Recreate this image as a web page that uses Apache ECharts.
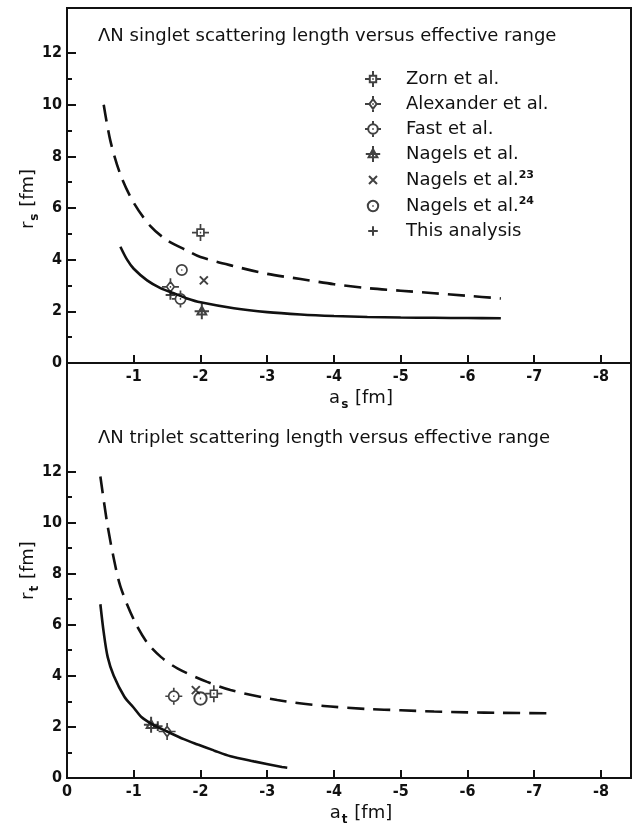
<!DOCTYPE html>
<html>
<head>
<meta charset="utf-8">
<script src="https://cdn.jsdelivr.net/npm/echarts@6/dist/echarts.min.js"></script>
<style>
  html, body { margin: 0; background: #fff; }
  #chart { width: 638px; height: 831px; }
</style>
</head>
<body>
<div id="chart"></div>
<script>
// ---- curves (a [fm], r [fm]) ----
const singletDashed = [[-0.55,10.0],[-0.65,8.6],[-0.8,7.3],[-1.0,6.2],[-1.25,5.3],[-1.5,4.75],[-1.8,4.35],[-2.0,4.1],[-2.5,3.75],[-3.0,3.45],[-3.5,3.25],[-4.0,3.05],[-4.5,2.9],[-5.0,2.8],[-5.5,2.7],[-6.0,2.6],[-6.5,2.5]];
const singletSolid = [[-0.8,4.5],[-0.9,4.0],[-1.0,3.65],[-1.2,3.2],[-1.4,2.9],[-1.6,2.7],[-1.8,2.5],[-2.0,2.35],[-2.5,2.12],[-3.0,1.97],[-3.5,1.88],[-4.0,1.82],[-4.5,1.78],[-5.0,1.76],[-5.5,1.75],[-6.0,1.74],[-6.5,1.73]];
const tripletDashed = [[-0.5,11.8],[-0.6,10.0],[-0.7,8.6],[-0.8,7.5],[-1.0,6.2],[-1.2,5.3],[-1.41,4.73],[-1.66,4.28],[-2.1,3.76],[-2.45,3.44],[-3.15,3.05],[-3.85,2.82],[-4.5,2.7],[-5.0,2.65],[-5.5,2.6],[-6.0,2.57],[-6.5,2.55],[-7.3,2.53]];
const tripletSolid = [[-0.5,6.8],[-0.55,5.7],[-0.61,4.73],[-0.7,4.0],[-0.86,3.18],[-1.0,2.75],[-1.11,2.4],[-1.3,2.07],[-1.5,1.82],[-1.75,1.52],[-1.96,1.31],[-2.2,1.08],[-2.45,0.85],[-2.8,0.65],[-3.22,0.43],[-3.3,0.4]];

// ---- data points: singlet (top) and triplet (bottom) ----
const zornS = [[-2.0,5.05]],       zornT = [[-2.2,3.3]];
const alexanderS = [[-1.55,2.95]], alexanderT = [[-1.5,1.82]];
const fastS = [[-1.7,2.48]],       fastT = [[-1.6,3.2]];
const nagelsS = [[-2.02,2.0]],     nagelsT = [[-1.26,2.08]];
const nagels23S = [[-2.05,3.2]],   nagels23T = [[-1.93,3.44]];
const nagels24S = [[-1.72,3.6]],   nagels24T = [[-2.0,3.11]];
const thisS = [[-1.55,2.63]],      thisT = [[-1.36,2.03]];

// ---- ticks ----
const yMajor = [0,2,4,6,8,10,12];
const yMinor = [1,3,5,7,9,11];
const xTicks = [-1,-2,-3,-4,-5,-6,-7,-8];
const xLabelsTop = [-1,-2,-3,-4,-5,-6,-7,-8];
const xLabelsBottom = [0,-1,-2,-3,-4,-5,-6,-7,-8];

const legendNames = ['Zorn et al.','Alexander et al.','Fast et al.','Nagels et al.','Nagels et al.23','Nagels et al.24','This analysis'];

const INK = '#111';
const FONT = 'DejaVu Sans';
const NUMFONT = '"Liberation Sans Narrow", "DejaVu Sans Condensed", sans-serif';

// all symbols drawn in a 20x20 box (the M0 0M20 20 keeps the box)
const BOX = 'M0 0M20 20';
const sym = {
  zorn: 'path://' + BOX + 'M6 6H14V14H6Z M10 0V6 M10 14V20 M0 10H6 M14 10H20 M9.2 10H10.8',
  alexander: 'path://' + BOX + 'M10 4L14.5 10L10 16L5.5 10Z M10 0V4 M10 16V20 M0 10H5.5 M14.5 10H20 M9.2 10H10.8',
  fast: 'path://' + BOX + 'M4 10A6 6 0 1 1 16 10A6 6 0 1 1 4 10Z M10 0V4 M10 16V20 M0 10H4 M16 10H20 M9.2 10H10.8',
  nagels: 'path://' + BOX + 'M10 4L15.5 14H4.5Z M10 0V20 M1 10H19',
  cross: 'path://' + BOX + 'M5 5L15 15M15 5L5 15',
  circ: 'path://' + BOX + 'M3.5 10A6.5 6.5 0 1 1 16.5 10A6.5 6.5 0 1 1 3.5 10Z M9.3 10H10.7',
  plus: 'path://' + BOX + 'M10 4V16M4 10H16'
};

function pts(name, symbol, size, data, panel, bw) {
  return {
    name: name, type: 'scatter', xAxisIndex: panel, yAxisIndex: panel * 2,
    symbol: symbol, symbolSize: size, data: data, z: 5,
    itemStyle: { color: 'transparent', borderColor: INK, borderWidth: bw || 1.7 }
  };
}
function curve(name, data, panel, dashed) {
  return {
    name: name, type: 'line', xAxisIndex: panel, yAxisIndex: panel * 2,
    data: data, showSymbol: false, smooth: 0.3,
    lineStyle: { color: INK, width: 2.6, type: dashed ? [17, 9] : 'solid' }
  };
}

const nameRich = {
  a: { fontSize: 18, fontFamily: FONT, color: INK, lineHeight: 26, verticalAlign: 'middle' },
  s: { fontSize: 12, fontFamily: FONT, color: INK, fontWeight: 'bold', lineHeight: 12, verticalAlign: 'bottom', padding: [0, 1, 0, 1] }
};

function xAxisFor(grid, labels, name, sub) {
  return {
    type: 'value', gridIndex: grid, min: -8.45, max: 0, inverse: true,
    axisLine: { lineStyle: { color: INK, width: 2 } },
    axisTick: { inside: true, length: 8, customValues: xTicks, lineStyle: { color: INK, width: 2 } },
    axisLabel: { customValues: labels, margin: 6, color: INK, fontSize: 16, fontWeight: 'bold', fontFamily: NUMFONT },
    splitLine: { show: false },
    name: '{a|' + name + '}{s|' + sub + '}{a| [fm]}',
    nameLocation: 'middle', nameGap: 22, nameMoveOverlap: false,
    nameTextStyle: { padding: [0, 0, 0, 24], rich: nameRich }
  };
}
function yAxesFor(grid, max, name, sub, shift) {
  return [{
    type: 'value', gridIndex: grid, min: 0, max: max, position: 'left',
    axisLine: { lineStyle: { color: INK, width: 2 } },
    axisTick: { inside: true, length: 9, customValues: yMajor, lineStyle: { color: INK, width: 2 } },
    axisLabel: { customValues: yMajor, margin: 5, color: INK, fontSize: 16, fontWeight: 'bold', fontFamily: NUMFONT },
    splitLine: { show: false },
    name: '{a|' + name + '}{s|' + sub + '}{a| [fm]}',
    nameLocation: 'middle', nameGap: 26, nameRotate: 90, nameMoveOverlap: false,
    nameTextStyle: { padding: [0, shift, 0, 0], rich: nameRich }
  }, {
    type: 'value', gridIndex: grid, min: 0, max: max, position: 'left', offset: 0,
    axisLine: { show: false },
    axisTick: { inside: true, length: 5, customValues: yMinor, lineStyle: { color: INK, width: 2 } },
    axisLabel: { show: false },
    splitLine: { show: false }
  }];
}

const chart = echarts.init(document.getElementById('chart'));
chart.setOption({
  animation: false,
  backgroundColor: '#fff',
  title: [
    { text: 'ΛN singlet scattering length versus effective range', left: 93, top: 22,
      textStyle: { fontFamily: FONT, fontSize: 18, fontWeight: 'normal', color: INK } },
    { text: 'ΛN triplet scattering length versus effective range', left: 93, top: 424,
      textStyle: { fontFamily: FONT, fontSize: 18, fontWeight: 'normal', color: INK } }
  ],
  legend: {
    data: legendNames, orient: 'vertical', left: 359, top: 65,
    itemWidth: 16, itemHeight: 16, itemGap: 7, selectedMode: false,
    formatter: function (n) {
      const m = n.match(/^(.*\.)(\d+)$/);
      return m ? '{b|' + m[1] + '}{sup|' + m[2] + '}' : '{b|' + n + '}';
    },
    textStyle: {
      padding: [0, 0, 0, 20],
      rich: {
        b: { fontSize: 18, fontFamily: FONT, color: INK, lineHeight: 20 },
        sup: { fontSize: 11, fontFamily: FONT, color: INK, fontWeight: 'bold', verticalAlign: 'top', lineHeight: 11, padding: [0, 0, 6, 0] }
      }
    }
  },
  grid: [
    { left: 67, right: 7, top: 8, height: 355, show: true, borderColor: INK, borderWidth: 2 },
    { left: 67, right: 7, top: 363, height: 419, show: true, borderColor: INK, borderWidth: 2 }
  ],
  xAxis: [
    xAxisFor(0, xLabelsTop, 'a', 's'),
    xAxisFor(1, xLabelsBottom, 'a', 't')
  ],
  yAxis: [].concat(yAxesFor(0, 355 / 25.83, 'r', 's', 27), yAxesFor(1, 419 / 25.8, 'r', 't', 0)),
  series: [
    curve('singlet dashed', singletDashed, 0, true),
    curve('singlet solid', singletSolid, 0, false),
    curve('triplet dashed', tripletDashed, 1, true),
    curve('triplet solid', tripletSolid, 1, false),
    pts('Zorn et al.', sym.zorn, 17, zornS, 0), pts('Zorn et al.', sym.zorn, 17, zornT, 1),
    pts('Alexander et al.', sym.alexander, 17, alexanderS, 0), pts('Alexander et al.', sym.alexander, 17, alexanderT, 1),
    pts('Fast et al.', sym.fast, 17, fastS, 0), pts('Fast et al.', sym.fast, 17, fastT, 1),
    pts('Nagels et al.', sym.nagels, 16, nagelsS, 0, 2), pts('Nagels et al.', sym.nagels, 16, nagelsT, 1, 2),
    pts('Nagels et al.23', sym.cross, 16, nagels23S, 0, 2), pts('Nagels et al.23', sym.cross, 16, nagels23T, 1, 2),
    pts('Nagels et al.24', sym.circ, 16, nagels24S, 0), pts('Nagels et al.24', sym.circ, 19, nagels24T, 1, 2),
    pts('This analysis', sym.plus, 16, thisS, 0, 2), pts('This analysis', sym.plus, 16, thisT, 1, 2)
  ]
});
</script>
</body>
</html>
